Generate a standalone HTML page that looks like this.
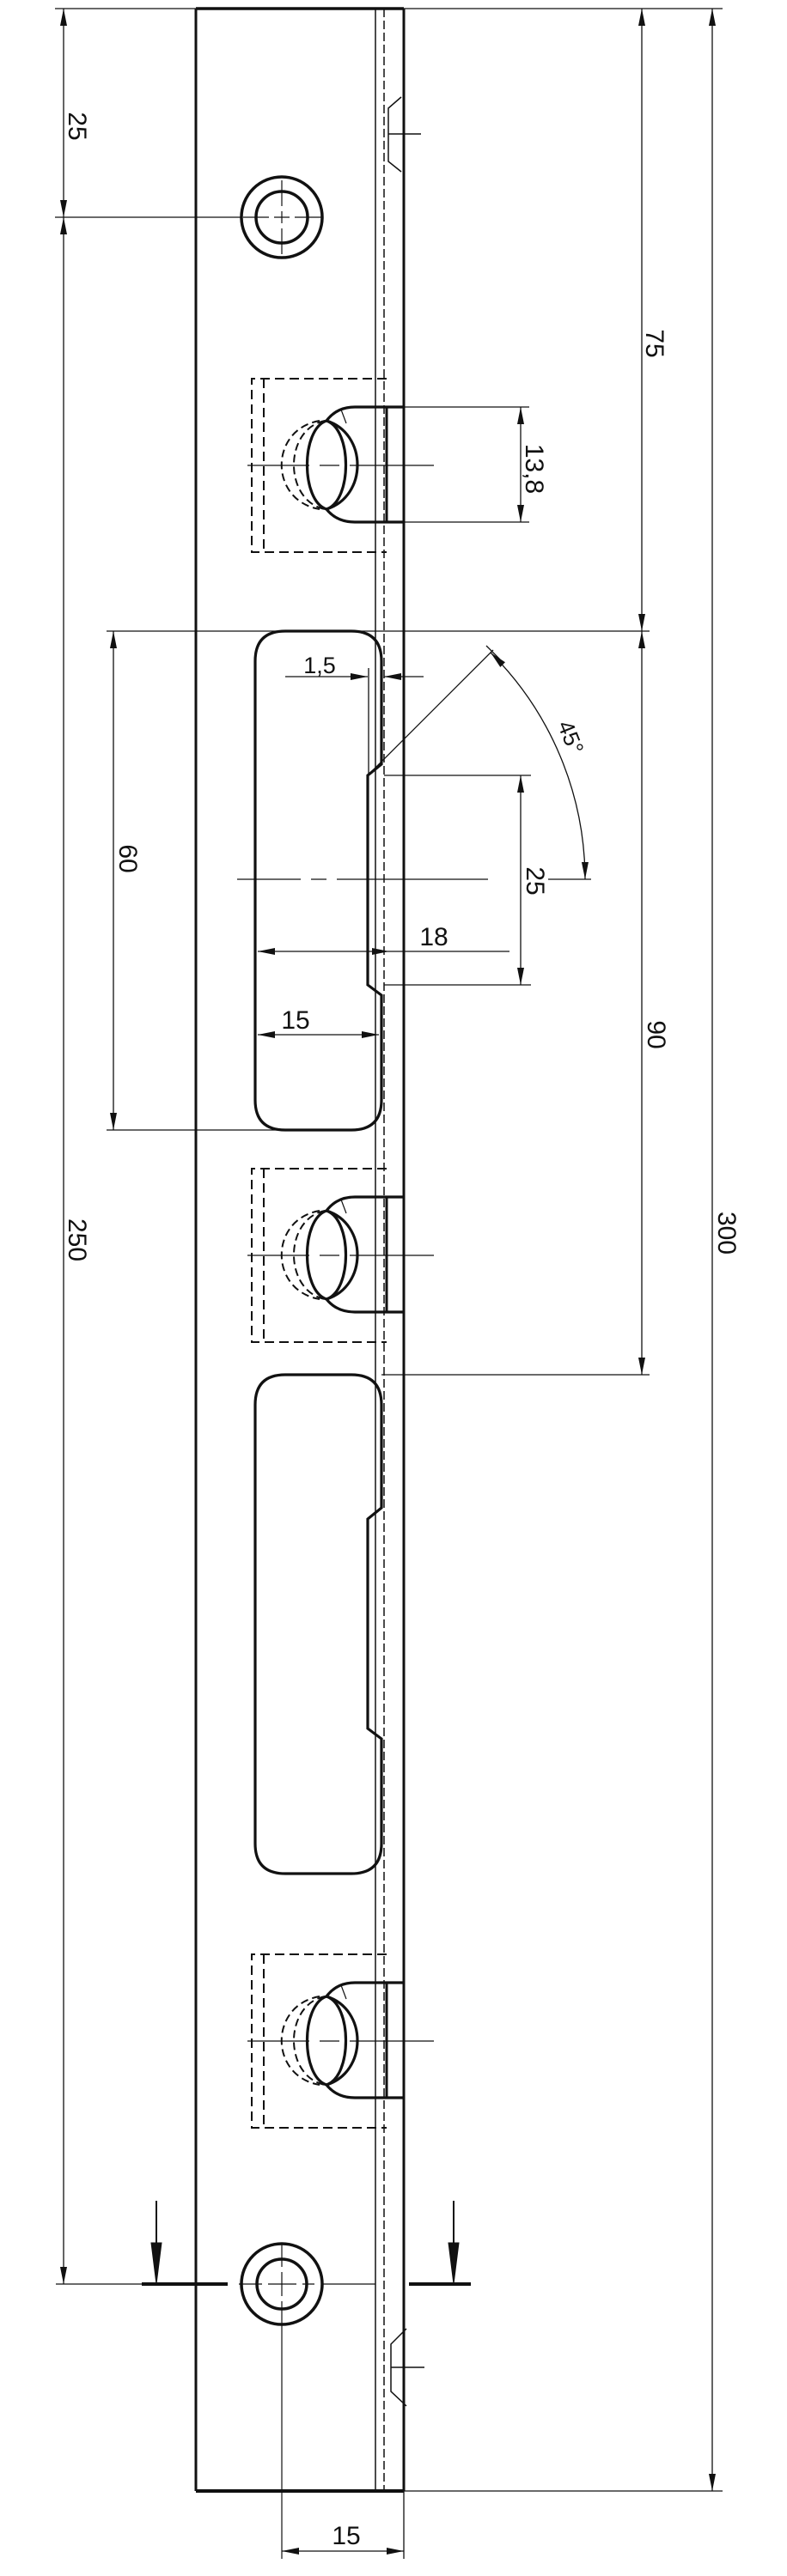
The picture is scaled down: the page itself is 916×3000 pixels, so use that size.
<!DOCTYPE html>
<html><head><meta charset="utf-8"><style>
html,body{margin:0;padding:0;background:#fff}
svg{display:block}
text{font-family:"Liberation Sans",sans-serif;font-size:30px;fill:#111}
</style></head><body>
<svg width="916" height="3000" viewBox="0 0 916 3000" xmlns="http://www.w3.org/2000/svg">
<defs>
<marker id="a" viewBox="0 0 20 8" refX="20" refY="4" markerWidth="20" markerHeight="8" markerUnits="userSpaceOnUse" orient="auto-start-reverse"><path d="M0,0 L20,4 L0,8 Z" fill="#111"/></marker>
<g id="rec" fill="none" stroke="#111">
<path d="M450,441 H293 V643 H450" stroke-width="2" stroke-dasharray="11,6"/>
<path d="M307,441 V643" stroke-width="2" stroke-dasharray="11,6"/>
<path d="M372,490 C313,500 313,583 372,593" stroke-width="2" stroke-dasharray="9,5"/>
<path d="M378,490 C330,500 330,583 378,593" stroke-width="2" stroke-dasharray="9,5"/>
<path d="M380,490 C350,500 350,583 380,593" stroke-width="3.2"/>
<path d="M380,490 C410,500 410,583 380,593" stroke-width="3.2"/>
<path d="M470,474 H413 Q392,474 380,490 C428,505 428,578 380,593 Q392,608 413,608 H470" stroke-width="3.2"/>
<path d="M397,477 L403,493" stroke-width="1.2"/>
<path d="M450,474 V608" stroke-width="3"/>
<path d="M288,542 H360 M372,542 H395 M407,542 H505" stroke-width="1.3"/>
</g>
<path id="slot" d="M332,735 H409 Q444,735 444,770 V890 L428,903 V1147 L444,1159 V1281 Q444,1316 409,1316 H332 Q297,1316 297,1281 V770 Q297,735 332,735 Z" fill="none" stroke="#111" stroke-width="3.2"/>
</defs>

<g fill="none" stroke="#111">
<path d="M228,10 V2901" stroke-width="3"/>
<path d="M470,10 V2901" stroke-width="3"/>
<path d="M437,10 V2901" stroke-width="1.5"/>
<path d="M447,10 V2901" stroke-width="1.5" stroke-dasharray="10,4"/>
<path d="M228,10 H470" stroke-width="3.5"/>
<path d="M64,10 H841" stroke-width="1.2"/>
<path d="M228,2901 H470" stroke-width="4"/>
<path d="M470,2901 H841" stroke-width="1.2"/>
<path d="M467,113 L452,126 V188 L467,200 M452,156 H490" stroke-width="1.5"/>
<path d="M473,2712 L455,2730 V2785 L473,2802 M455,2757 H494" stroke-width="1.5"/>
<circle cx="328" cy="253" r="47" stroke-width="3.5"/>
<circle cx="328" cy="253" r="30" stroke-width="3.5"/>
<path d="M283,253 H313 M319,253 H337 M343,253 H375 M328,210 V240 M328,246 V260 M328,266 V296" stroke-width="1.2"/>
<circle cx="328" cy="2660" r="47" stroke-width="3.5"/>
<circle cx="328" cy="2660" r="29" stroke-width="3.5"/>
<path d="M328,2612 V2640 M328,2646 V2674 M328,2680 V2980" stroke-width="1.2"/>
</g>

<use href="#rec"/>
<use href="#rec" transform="translate(0,920)"/>
<use href="#rec" transform="translate(0,1835)"/>
<use href="#slot"/>
<use href="#slot" transform="translate(0,866)"/>

<g fill="none" stroke="#111" stroke-width="1.3">
<path d="M64,253 H281"/>
<path d="M74,10 V253" marker-start="url(#a)" marker-end="url(#a)"/>
<path d="M74,253 V2660" marker-start="url(#a)" marker-end="url(#a)"/>
<path d="M747,10 V735" marker-start="url(#a)" marker-end="url(#a)"/>
<path d="M747,735 V1601" marker-start="url(#a)" marker-end="url(#a)"/>
<path d="M829,10 V2901" marker-start="url(#a)" marker-end="url(#a)"/>
<path d="M124,735 H756"/>
<path d="M444,1601 H756"/>
<path d="M470,474 H616 M470,608 H616"/>
<path d="M606,474 V608" marker-start="url(#a)" marker-end="url(#a)"/>
<path d="M124,1316 H330"/>
<path d="M132,735 V1316" marker-start="url(#a)" marker-end="url(#a)"/>
<path d="M429,778 V903"/>
<path d="M332,788 H428" marker-end="url(#a)"/>
<path d="M493,788 H447" marker-end="url(#a)"/>
<path d="M428,903 L574,757 M566,752 L582,768"/>
<path d="M571,760 A374,374 0 0 1 681,1024" marker-start="url(#a)" marker-end="url(#a)"/>
<path d="M638,1024 H688"/>
<path d="M276,1024 H350 M362,1024 H380 M392,1024 H568"/>
<path d="M447,903 H618 M447,1147 H618"/>
<path d="M606,903 V1147" marker-start="url(#a)" marker-end="url(#a)"/>
<path d="M300,1108 H453" marker-start="url(#a)" marker-end="url(#a)"/>
<path d="M453,1108 H593"/>
<path d="M300,1205 H441" marker-start="url(#a)" marker-end="url(#a)"/>
<path d="M470,2901 V2980"/>
<path d="M328,2971 H470" marker-start="url(#a)" marker-end="url(#a)"/>
<path d="M65,2660 H165 M278,2660 H305 M312,2660 H345 M352,2660 H366 M376,2660 H437"/>
</g>
<g stroke="#111" fill="#111">
<path d="M165,2660 H265 M476,2660 H548" stroke-width="4"/>
<path d="M182,2563 V2615" stroke-width="2"/>
<path d="M176,2612 L188,2612 L182,2660 Z"/>
<path d="M528,2563 V2615" stroke-width="2"/>
<path d="M522,2612 L534,2612 L528,2660 Z"/>
</g>

<text transform="translate(80,147) rotate(90)" text-anchor="middle">25</text>
<text transform="translate(80,1444) rotate(90)" text-anchor="middle">250</text>
<text transform="translate(752,400) rotate(90)" text-anchor="middle">75</text>
<text transform="translate(754,1205) rotate(90)" text-anchor="middle">90</text>
<text transform="translate(836,1436) rotate(90)" text-anchor="middle">300</text>
<text transform="translate(612,546) rotate(90)" text-anchor="middle">13,8</text>
<text transform="translate(139,1000) rotate(90)" text-anchor="middle">60</text>
<text transform="translate(613,1026) rotate(90)" text-anchor="middle">25</text>
<text transform="translate(656,862) rotate(68)" text-anchor="middle" style="font-size:26px">45°</text>
<text x="372" y="784" text-anchor="middle" style="font-size:27px">1,5</text>
<text x="505" y="1101" text-anchor="middle">18</text>
<text x="344" y="1198" text-anchor="middle">15</text>
<text x="403" y="2963" text-anchor="middle">15</text>
</svg>
</body></html>
